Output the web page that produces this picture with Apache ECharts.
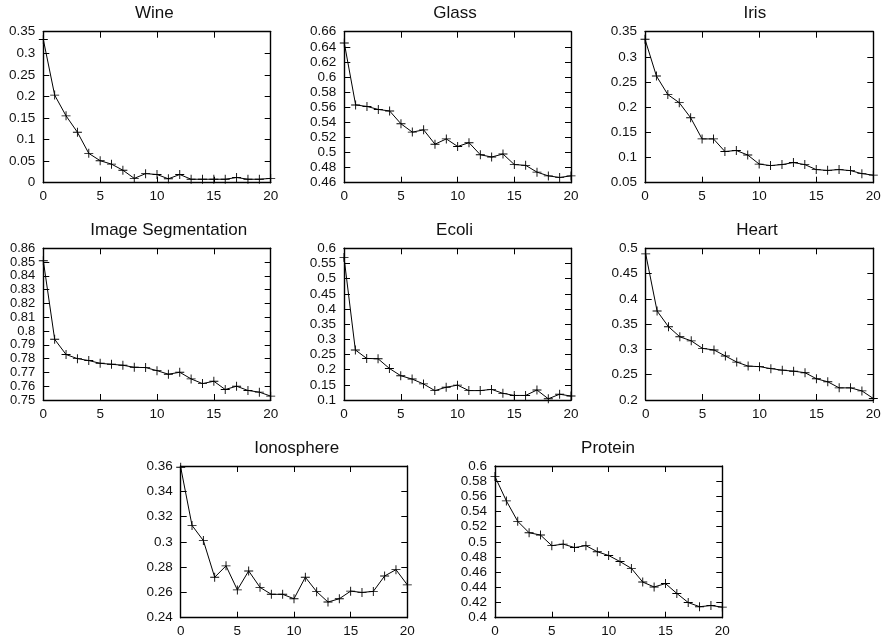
<!DOCTYPE html>
<html>
<head>
<meta charset="utf-8">
<script src="https://cdn.jsdelivr.net/npm/echarts@6/dist/echarts.min.js"></script>
<style>
html,body{margin:0;padding:0;background:#fff;}
#chart{width:886px;height:640px;}
</style>
</head>
<body>
<div id="chart"></div>
<script>
// ---- data ----
const xValues = [0,1,2,3,4,5,6,7,8,9,10,11,12,13,14,15,16,17,18,19,20];
const xTicks = [0, 20, 5]; // min, max, step

const titles = ['Wine','Glass','Iris','Image Segmentation','Ecoli','Heart','Ionosphere','Protein'];

const wine = [0.332,0.203,0.155,0.117,0.068,0.051,0.043,0.029,0.010,0.021,0.019,0.009,0.019,0.008,0.008,0.008,0.008,0.012,0.008,0.008,0.010];
const glass = [0.645,0.563,0.561,0.557,0.555,0.538,0.527,0.530,0.511,0.518,0.508,0.513,0.497,0.494,0.498,0.484,0.483,0.474,0.469,0.467,0.469];
const iris = [0.335,0.262,0.225,0.209,0.179,0.137,0.137,0.112,0.114,0.105,0.087,0.084,0.086,0.090,0.086,0.076,0.0745,0.076,0.074,0.068,0.065];
const imageSeg = [0.851,0.794,0.783,0.780,0.7786,0.7766,0.7759,0.7752,0.7737,0.7735,0.7713,0.7687,0.7701,0.7653,0.7619,0.7636,0.7576,0.7600,0.7569,0.7557,0.7528];
const ecoli = [0.570,0.265,0.237,0.236,0.204,0.180,0.169,0.153,0.131,0.142,0.149,0.131,0.131,0.135,0.122,0.115,0.115,0.133,0.104,0.119,0.113];
const heart = [0.489,0.376,0.345,0.325,0.317,0.302,0.299,0.287,0.275,0.267,0.266,0.262,0.259,0.257,0.254,0.242,0.236,0.224,0.224,0.218,0.203];
const ionosphere = [0.359,0.313,0.301,0.272,0.281,0.262,0.277,0.264,0.2585,0.2585,0.255,0.272,0.2606,0.2524,0.255,0.261,0.260,0.2608,0.273,0.278,0.266];
const protein = [0.586,0.554,0.527,0.512,0.509,0.495,0.497,0.4925,0.495,0.487,0.482,0.474,0.465,0.447,0.4405,0.445,0.432,0.420,0.4145,0.416,0.414];

// y axis [min, max, step]
const wineY = [0, 0.35, 0.05];
const glassY = [0.46, 0.66, 0.02];
const irisY = [0.05, 0.35, 0.05];
const imageSegY = [0.75, 0.86, 0.01];
const ecoliY = [0.1, 0.6, 0.05];
const heartY = [0.2, 0.5, 0.05];
const ionosphereY = [0.24, 0.36, 0.02];
const proteinY = [0.4, 0.6, 0.02];

// ---- layout ----
const seriesData = [wine, glass, iris, imageSeg, ecoli, heart, ionosphere, protein];
const yRanges = [wineY, glassY, irisY, imageSegY, ecoliY, heartY, ionosphereY, proteinY];
const layout = [
  {left:43.3, top:31.7, width:227.4, height:151, tx:154.3, ty:13.5, yfs:13.5},
  {left:344.3, top:31.7, width:226.7, height:151, tx:455, ty:13.5, yfs:13.5},
  {left:645, top:31.7, width:228.3, height:151, tx:754.8, ty:13.5, yfs:13.5},
  {left:43.3, top:248.3, width:227.4, height:151.7, tx:168.7, ty:230.5, yfs:13},
  {left:344, top:248.3, width:227, height:151.7, tx:454.5, ty:230.5, yfs:13.5},
  {left:645.7, top:248.3, width:227.6, height:151.7, tx:757, ty:230.5, yfs:13.5},
  {left:180.7, top:466, width:226.6, height:151.7, tx:296.7, ty:448.5, yfs:13.5},
  {left:495, top:466, width:227.3, height:151.7, tx:608, ty:448.5, yfs:13.5}
];

const FONT = "'Liberation Sans', Arial, Helvetica, sans-serif";
const plusPath = 'path://M4.5,0 L5.5,0 L5.5,4.5 L10,4.5 L10,5.5 L5.5,5.5 L5.5,10 L4.5,10 L4.5,5.5 L0,5.5 L0,4.5 L4.5,4.5 Z';
const fmt = v => String(parseFloat(Number(v).toFixed(4)));

const grid = [], xAxis = [], yAxis = [], series = [], graphic = [];
const lineSty = {color:'#000', width:1.4};
const tickSty = {show:true, inside:true, length:6, lineStyle:{color:'#000', width:1}};
const labelSty = {show:true, fontSize:13.5, color:'#111', fontFamily:FONT, formatter:fmt,
  showMinLabel:true, showMaxLabel:true, hideOverlap:false};

layout.forEach((L, i) => {
  grid.push({left:L.left, top:L.top, width:L.width, height:L.height, containLabel:false, outerBoundsMode:'none', show:false});
  const xb = {gridIndex:i, type:'value', min:xTicks[0], max:xTicks[1], interval:xTicks[2],
    axisLine:{show:true, onZero:false, lineStyle:lineSty}, axisTick:tickSty, splitLine:{show:false}};
  xAxis.push(Object.assign({}, xb, {position:'bottom',
    axisLabel:Object.assign({}, labelSty, {margin:7})}));
  xAxis.push(Object.assign({}, xb, {position:'top', axisLabel:{show:false}}));
  const r = yRanges[i];
  const yb = {gridIndex:i, type:'value', min:r[0], max:r[1], interval:r[2],
    axisLine:{show:true, onZero:false, lineStyle:lineSty}, axisTick:tickSty, splitLine:{show:false}};
  yAxis.push(Object.assign({}, yb, {position:'left',
    axisLabel:Object.assign({}, labelSty, {margin:8, fontSize:L.yfs})}));
  yAxis.push(Object.assign({}, yb, {position:'right', axisLabel:{show:false}}));
  series.push({
    type:'line', name:titles[i], xAxisIndex:2*i, yAxisIndex:2*i,
    data: xValues.map((x, j) => [x, seriesData[i][j]]),
    symbol: plusPath, symbolSize: 9, showSymbol:true, clip:false,
    lineStyle:{color:'#000', width:1}, itemStyle:{color:'#000'},
    emphasis:{disabled:true}, animation:false
  });
  graphic.push({type:'text', x:L.tx, y:L.ty, silent:true,
    style:{text:titles[i], fontSize:17, fontFamily:FONT, fill:'#111', align:'center', verticalAlign:'middle'}});
});

const chart = echarts.init(document.getElementById('chart'), null, {renderer:'canvas'});
chart.setOption({animation:false, backgroundColor:'#fff', grid, xAxis, yAxis, series, graphic});
</script>
</body>
</html>
